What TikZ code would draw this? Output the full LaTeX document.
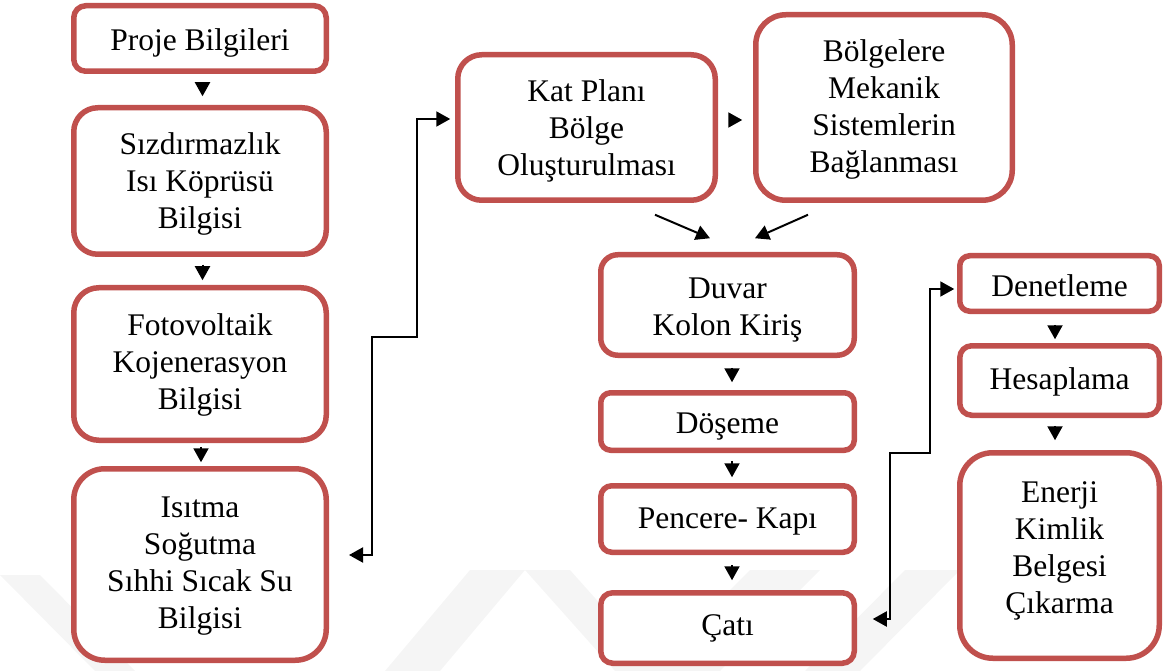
\documentclass[tikz,border=0pt]{standalone}
\usepackage{fontspec}
\setmainfont{Liberation Serif}
\usetikzlibrary{arrows.meta,calc}
\definecolor{boxred}{RGB}{192,80,77}
\definecolor{wmgray}{RGB}{245,245,245}
\newcommand\dgfont{\fontsize{31.5}{37}\selectfont}
\newcommand\dgtop[1]{\rule{0pt}{#1pt}}
\newcommand\dgbot[1]{\rule[-#1pt]{0pt}{0pt}}
\begin{document}
\begin{tikzpicture}[x=1pt,y=-1pt,
  box/.style={draw=boxred,line width=5.5pt,fill=white,align=center,inner sep=0pt,font=\dgfont},
  arr/.style={line width=2pt,-{Triangle[length=14pt,width=15pt]}},
  dbl/.style={line width=2pt,{Triangle[length=14pt,width=15pt]}-{Triangle[length=14pt,width=15pt]}},
  wm/.style={fill=wmgray,draw=none}]
\useasboundingbox (0,0) rectangle (1168,671);
% faint watermark
\fill[wm] (0,575) -- (40,575) -- (135,671) -- (95,671) -- cycle;
\fill[wm] (470,570) -- (525,570) -- (440,671) -- (385,671) -- cycle;
\fill[wm] (525,570) -- (570,570) -- (660,671) -- (615,671) -- cycle;
\fill[wm] (750,570) -- (820,570) -- (720,671) -- (650,671) -- cycle;
\fill[wm] (905,570) -- (960,570) -- (860,671) -- (805,671) -- cycle;
% left column
\node[box,minimum width=252.5pt,minimum height=65.5pt,rounded corners=12pt] (b1) at (200,38.5) {\dgtop{31}Proje Bilgileri\dgbot{4}};
\node[box,minimum width=252.5pt,minimum height=146.5pt,rounded corners=24pt] (b2) at (200,181) {\dgtop{28}Sızdırmazlık\\Isı Köprüsü\\Bilgisi\dgbot{4}};
\node[box,minimum width=252.5pt,minimum height=152.5pt,rounded corners=25pt] (b3) at (200,364) {\dgtop{24}Fotovoltaik\\Kojenerasyon\\Bilgisi\dgbot{6}};
\node[box,minimum width=252.5pt,minimum height=191.5pt,rounded corners=31pt] (b4) at (200,564.5) {\dgtop{24}Isıtma\\Soğutma\\Sıhhi Sıcak Su\\Bilgisi\dgbot{8}};
% middle
\node[box,minimum width=257.5pt,minimum height=145.5pt,rounded corners=24pt] (kat) at (586.5,127.5) {\dgtop{28}Kat Planı\\Bölge\\Oluşturulması\dgbot{6}};
\node[box,minimum width=256.5pt,minimum height=185.5pt,rounded corners=30pt] (bol) at (884,107.5) {\dgtop{30}Bölgelere\\Mekanik\\Sistemlerin\\Bağlanması\dgbot{10}};
\node[box,minimum width=253.5pt,minimum height=100.5pt,rounded corners=17pt] (duvar) at (727.5,305) {\dgtop{31}Duvar\\Kolon Kiriş\dgbot{4}};
\node[box,minimum width=253.5pt,minimum height=57.5pt,rounded corners=10pt] (dos) at (727.5,421.5) {\dgtop{31}Döşeme\dgbot{4}};
\node[box,minimum width=253.5pt,minimum height=66.5pt,rounded corners=11pt] (pen) at (727.5,519) {\dgtop{26}Pencere- Kapı\dgbot{4}};
\node[box,minimum width=253.5pt,minimum height=70.5pt,rounded corners=12pt] (cati) at (727.5,628) {\dgtop{22}Çatı\dgbot{5}};
% right
\node[box,minimum width=199.5pt,minimum height=55.5pt,rounded corners=10pt] (den) at (1059.5,283.5) {\dgtop{31}Denetleme\dgbot{4}};
\node[box,minimum width=199.5pt,minimum height=69.5pt,rounded corners=12pt] (hes) at (1059.5,380.5) {\dgtop{25}Hesaplama\dgbot{4}};
\node[box,minimum width=199.5pt,minimum height=205.5pt,rounded corners=33pt] (ene) at (1059.5,555.5) {\dgtop{22}Enerji\\Kimlik\\Belgesi\\Çıkarma\dgbot{18}};
% vertical arrows
\draw[arr,shorten <=11.75pt,shorten >=8.75pt] ([xshift=2.5pt]b1.south) -- ([xshift=2.5pt]b2.north);
\draw[arr,shorten <=7.75pt,shorten >=4.75pt] ([xshift=2.5pt]b2.south) -- ([xshift=2.5pt]b3.north);
\draw[arr,shorten <=3.75pt,shorten >=3.75pt] ([xshift=1pt]b3.south) -- ([xshift=1pt]b4.north);
\draw[arr,shorten <=9.75pt,shorten >=7.75pt] ([xshift=4.5pt]duvar.south) -- ([xshift=4.5pt]dos.north);
\draw[arr,shorten <=7.75pt,shorten >=5.75pt] ([xshift=4.5pt]dos.south) -- ([xshift=4.5pt]pen.north);
\draw[arr,shorten <=9.75pt,shorten >=9.75pt] ([xshift=4.5pt]pen.south) -- ([xshift=4.5pt]cati.north);
\draw[arr,shorten <=10.75pt,shorten >=3.75pt] ([xshift=-4.5pt]den.south) -- ([xshift=-4.5pt]hes.north);
\draw[arr,shorten <=7.75pt,shorten >=9.75pt] ([xshift=-4.5pt]hes.south) -- ([xshift=-4.5pt]ene.north);
% horizontal arrow
\coordinate (k1) at ([yshift=7.5pt]kat.east);
\coordinate (k2) at (k1 -| bol.west);
\draw[arr] ([xshift=11.75pt]k1) -- ([xshift=-10.75pt]k2);
% diagonal arrows
\draw[arr] ($(kat.south)+(68.5,11.75)$) -- ($(duvar.north)+(-17.5,-13.75)$);
\draw[arr] ($(bol.south)+(-76,11.75)$) -- ($(duvar.north)+(27.5,-13.75)$);
% elbow connectors
\draw[dbl] ([xshift=20pt,yshift=9.5pt]b4.east) -- (372,555) -- (372,337) -- (417,337) -- (417,119) -- ([xshift=-4.75pt,yshift=8.5pt]kat.west);
\draw[dbl] ([xshift=15.75pt,yshift=9pt]cati.east) -- (890,619) -- (890,453) -- (930,453) -- (930,289) -- ([xshift=-2.75pt,yshift=-5.5pt]den.west);
\end{tikzpicture}
\end{document}
